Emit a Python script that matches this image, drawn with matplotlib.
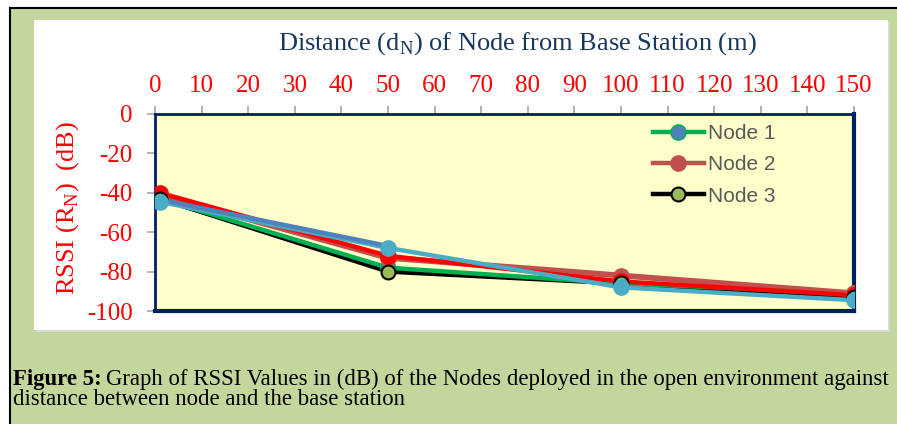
import matplotlib.pyplot as plt
from matplotlib.patches import Rectangle
from matplotlib.lines import Line2D

# distance of node from base station (m)
distance = [1, 50, 100, 150]

# RSSI values (dB)
node1 = [-43, -78, -86, -91]
node2 = [-41, -73, -82, -91]
node3 = [-43, -80, -86, -93]
extra_red = [-40, -72, -85, -92]
extra_blue = [-43.5, -67, -86.5, -93]
extra_cyan = [-44.5, -68, -88, -94.5]

xticks = list(range(0, 151, 10))
yticks = [0, -20, -40, -60, -80, -100]

plt.rcParams['mathtext.fontset'] = 'custom'
plt.rcParams['mathtext.rm'] = 'Liberation Serif'
plt.rcParams['axes.unicode_minus'] = False

W, H = 897, 424
fig = plt.figure(figsize=(W / 100, H / 100), dpi=100, facecolor='white')


def px_rect(x0, y0, x1, y1, **kw):
    # rectangle given in pixel coords (top-left origin)
    return Rectangle((x0 / W, 1 - y1 / H), (x1 - x0) / W, (y1 - y0) / H,
                     transform=fig.transFigure, zorder=-10, **kw)


fig.patches.append(px_rect(10, 8, 897, 424, facecolor='#C3D69B', edgecolor='none'))
fig.patches.append(px_rect(36, 22, 890, 332, facecolor='#D9D9D9', edgecolor='none'))
fig.patches.append(px_rect(34, 20, 888, 330, facecolor='white', edgecolor='none'))
fig.lines.append(Line2D([10 / W, 1], [1 - 8 / H, 1 - 8 / H], transform=fig.transFigure,
                        color='black', lw=1.5, zorder=-5))
fig.lines.append(Line2D([10 / W, 10 / W], [0, 1 - 8 / H], transform=fig.transFigure,
                        color='black', lw=1.5, zorder=-5))

ax = fig.add_axes([155 / W, 1 - 311 / H, 699 / W, 197 / H])
ax.set_facecolor('#FFFFCC')

lw = 3.2
ax.plot(distance, node3, color='black', lw=lw, zorder=2, solid_capstyle='round')
ax.plot(distance, node1, color='#00B050', lw=lw, zorder=2.1)
ax.plot(distance, node2, color='#C0504D', lw=lw + 1, zorder=2.2)
ax.plot(distance, extra_red, color='#FF0000', lw=lw, zorder=2.3)
ax.plot(distance, extra_cyan, color='#4BACC6', lw=lw, zorder=2.4)
ax.plot(distance[:2], extra_blue[:2], color='#4F81BD', lw=lw, zorder=2.45)

ms = 11
ax.plot(distance, node1, ls='none', marker='o', ms=ms, mfc='#4F81BD', mec='#00B050', zorder=3)
ax.plot(distance, node2, ls='none', marker='o', ms=ms, mfc='#C0504D', mec='#C0504D', zorder=3.1)
ax.plot(distance, extra_red, ls='none', marker='o', ms=ms, mfc='#FF0000', mec='#FF0000', zorder=3.2)
ax.plot(distance, node3, ls='none', marker='o', ms=ms - 1, mfc='#9BBB59', mec='black',
        mew=1.5, zorder=3.3)
ax.plot(distance, extra_cyan, ls='none', marker='o', ms=ms, mfc='#4BACC6', mec='#4BACC6', zorder=3.4)

ax.set_xlim(0, 150)
ax.set_ylim(-100, 0)
ax.xaxis.tick_top()
ax.set_xticks(xticks)
ax.set_yticks(yticks)
ax.tick_params(axis='x', colors='#A6A6A6', labelcolor='red', length=6, width=1.2,
               direction='out', pad=6, labelsize=18)
ax.tick_params(axis='y', colors='#A6A6A6', labelcolor='red', length=6, width=1.2,
               direction='out', pad=10, labelsize=18)
for lab in ax.get_xticklabels() + ax.get_yticklabels():
    lab.set_fontfamily('Liberation Serif')

for side in ['top', 'left']:
    ax.spines[side].set_color('#002060')
    ax.spines[side].set_linewidth(2)
for side in ['right', 'bottom']:
    ax.spines[side].set_color('#002060')
    ax.spines[side].set_linewidth(3)

handles = [
    Line2D([], [], color='#00B050', lw=lw, marker='o', ms=ms, mfc='#4F81BD', mec='#00B050'),
    Line2D([], [], color='#C0504D', lw=lw, marker='o', ms=ms, mfc='#C0504D', mec='#C0504D'),
    Line2D([], [], color='black', lw=lw, marker='o', ms=ms - 1, mfc='#9BBB59', mec='black', mew=1.5),
]
leg = ax.legend(handles, ['Node 1', 'Node 2', 'Node 3'], loc='upper left',
                bbox_to_anchor=(0.697, 1.0), frameon=False, borderpad=0,
                handlelength=2.45, handletextpad=0.2, labelspacing=0.58,
                prop={'family': 'Liberation Sans', 'size': 15})
for t in leg.get_texts():
    t.set_color('#595959')

fig.text(517 / W, 1 - 50 / H, r'Distance (d$_\mathrm{N}$) of Node from Base Station (m)',
         ha='center', va='baseline', fontsize=19, color='#17375E',
         family='Liberation Serif')
fig.text(68 / W, 1 - 208 / H, r'RSSI (R$_\mathrm{N}$)  (dB)', rotation=90,
         ha='center', va='center', fontsize=19, color='red', family='Liberation Serif')

cap_size = 16.4
bold = fig.text(13 / W, 1 - 385 / H, 'Figure 5:', ha='left', va='baseline',
                fontsize=cap_size, fontweight='bold', color='black', family='Liberation Serif')
plt.annotate('Graph of RSSI Values in (dB) of the Nodes deployed in the open environment against',
             xy=(1, 0), xycoords=bold, xytext=(3, 0), textcoords='offset points',
             ha='left', va='bottom', fontsize=cap_size, color='black', family='Liberation Serif',
             annotation_clip=False)
fig.text(13 / W, 1 - 405 / H, 'distance between node and the base station',
         ha='left', va='baseline', fontsize=cap_size, color='black', family='Liberation Serif')

fig.savefig('out.png', dpi=100, facecolor=fig.get_facecolor())
